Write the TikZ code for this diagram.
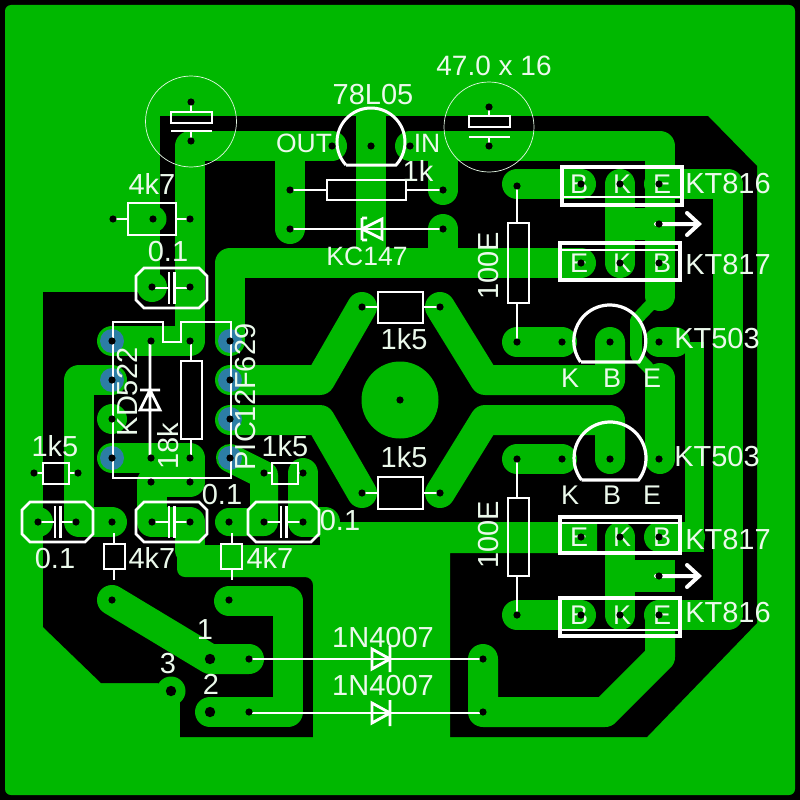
\documentclass[tikz,border=0pt]{standalone}
\usepackage{fontspec}
\setmainfont{Liberation Sans}
\definecolor{pcb}{RGB}{0,184,0}
\definecolor{padblue}{RGB}{44,125,165}
\tikzset{
  trk/.style={draw=pcb,line width=30pt,line cap=round,line join=round},
  silk/.style={draw=white,line width=2.8pt,line join=miter},
  thick silk/.style={draw=white,line width=3.6pt},
  ring/.style={draw=white!90!pcb,line width=0.7pt},
  lbl/.style={text=white!92!pcb,inner sep=0pt,font=\fontsize{29}{29}\selectfont},
  sml/.style={lbl,font=\fontsize{27}{27}\selectfont},
  mid/.style={lbl,font=\fontsize{26.5}{26.5}\selectfont},
  hole/.style={fill=black}
}
\begin{document}
\begin{tikzpicture}[x=1pt,y=-1pt]
\useasboundingbox (0,0) rectangle (800,800);
\fill[black] (0,0) rectangle (800,800);
\fill[pcb,rounded corners=6pt] (5,5) rectangle (795,795);
% copper clearance (black)
\fill[black] (160,116) -- (708,116) -- (757,166) -- (757,623) -- (647,737) -- (180,737) -- (180,700) -- (158,683) -- (101,683) -- (43,627) -- (43,292) -- (160,292) -- cycle;
% plane
\fill[pcb,rounded corners=8pt] (177,545) -- (177,577) -- (200,577) -- (313,577) [sharp corners] -- (313,745) -- (450,745) -- (450,553) -- (597,553) -- (597,522) -- (320,522) -- (320,545) -- cycle;
% lobes on the outer copper
\fill[pcb] (153,219) circle[radius=13.5pt] (152,287) circle[radius=15pt] (38,522) circle[radius=15pt] (171,691) circle[radius=14.5pt];
\fill[pcb] (400,400) circle[radius=38.5pt];
% tracks
\draw[trk] (191,146) -- (332,146);
\draw[trk] (410,146) -- (660,146) -- (660,296);
\draw[trk] (190,146) -- (190,341) -- (112,341);
\draw[trk] (371,108) -- (371,263);
\draw[trk] (290,146) -- (290,229);
\draw[trk] (443,146) -- (443,190);
\draw[trk] (443,229) -- (443,263);
\draw[trk] (230,341) -- (230,263) -- (581,263);
\draw[trk] (517,184) -- (581,184);
\draw[trk] (620,184) -- (620,263);
\fill[pcb] (605,208) rectangle (675,240);
\draw[trk] (659,184) -- (728,184) -- (728,615) -- (659,615);
\draw[trk,line width=12pt,line cap=butt] (655,300) -- (636,320) -- (636,355) -- (660,380);
\draw[trk] (660,378) -- (660,459);
\draw[trk] (517,342) -- (562,342);
\draw[trk] (517,459) -- (562,459);
\draw[trk] (659,342) -- (675,342);
\draw[trk] (659,537) -- (690,537);
\draw[trk,line width=19pt,line cap=butt] (694,342) -- (694,552);
\draw[trk] (610,342) -- (610,380) -- (485,380) -- (440,307);
\draw[trk] (610,459) -- (610,420) -- (485,420) -- (440,493);
\draw[trk] (230,380) -- (320,380) -- (362,307);
\draw[trk] (230,420) -- (320,420) -- (362,493);
\draw[trk] (112,380) -- (79,380) -- (79,522) -- (112,522);
\fill[pcb] (112,419) circle[radius=15pt];
\draw[trk] (112,458) -- (190,458) -- (190,482) -- (152,482) -- (152,522) -- (190,522) -- (190,550);
\draw[trk,line width=28pt] (230,458) -- (264,475) -- (264,522) -- (229,522);
\draw[trk] (303,473) -- (303,522) -- (325,522);
\draw[trk] (620,537) -- (620,615);
\fill[pcb] (605,560) rectangle (675,592);
\draw[trk] (483,659) -- (483,712) -- (605,712) -- (660,657) -- (660,615);
\draw[trk] (517,615) -- (581,615);
\draw[trk] (112,600) -- (210,659) -- (249,659);
\draw[trk] (229,601) -- (288,601) -- (288,712) -- (210,712);
% blue pads
\foreach \p in {(112,341),(112,380),(112,458),(230,341),(230,380),(230,419),(230,458)}
  \fill[padblue] \p circle[radius=12pt];
% silkscreen: electrolytic capacitors
\draw[ring] (191,121.5) circle[radius=45.5pt];
\draw[ring] (489,127) circle[radius=45pt];
\draw[silk] (171,112) rectangle (212,123);
\draw[silk] (171,131) -- (212,131) (191,103) -- (191,112) (191,131) -- (191,141);
\draw[silk] (469,116) rectangle (510,127);
\draw[silk] (469,137) -- (510,137) (489,107) -- (489,116) (489,137) -- (489,146);
% regulator and transistors
\draw[silk,line width=3pt] (346,165) -- (396,165) arc[start angle=-42.6,end angle=222.6,radius=34pt];
\draw[silk,line width=3.2pt] (581,362) -- (639,362) arc[start angle=-35.7,end angle=215.7,radius=36pt];
\draw[silk,line width=3.2pt] (581.5,480) -- (638.5,480) arc[start angle=-37.7,end angle=217.7,radius=36pt];
% resistors
\draw[silk] (327,180) rectangle (406,200) (290,190) -- (327,190) (406,190) -- (443,190);
\draw[silk] (128,203) rectangle (176,235) (113,219) -- (128,219) (176,219) -- (190,219);
\draw[silk] (378,292) rectangle (423,323) (362,307) -- (378,307) (423,307) -- (440,307);
\draw[silk] (378,477) rectangle (423,509) (362,493) -- (378,493) (423,493) -- (440,493);
\draw[silk] (508,223) rectangle (529,303) (517,186) -- (517,223) (517,303) -- (517,342);
\draw[silk] (508,498) rectangle (529,576) (517,459) -- (517,498) (517,576) -- (517,615);
\draw[silk] (181,361) rectangle (202,439) (191,341) -- (191,361) (191,439) -- (191,458);
\draw[silk] (43,463) rectangle (69,484) (34,473) -- (43,473) (69,473) -- (78,473);
\draw[silk] (272,463) rectangle (298,484) (264,473) -- (272,473) (298,473) -- (303,473);
\draw[silk] (104,544) rectangle (125,569) (114,533) -- (114,544) (114,569) -- (114,580);
\draw[silk] (221,544) rectangle (242,569) (232,533) -- (232,544) (232,569) -- (232,580);
% zener
\draw[silk] (290,229) -- (443,229);
\draw[silk,line join=miter] (382,219) -- (382,239) -- (362,229) -- cycle (362,218) -- (362,240) (362,218) -- (367,218) (362,240) -- (367,240);
% film capacitors
\foreach \cx/\cy/\la/\lb in {171.5/288/152/190, 57.5/522/38/76, 171.5/522/152/190, 283.5/522/264/303}{
  \draw[silk] (\cx-35.5,\cy-12) -- (\cx-27.5,\cy-20) -- (\cx+27.5,\cy-20) -- (\cx+35.5,\cy-12) -- (\cx+35.5,\cy+12) -- (\cx+27.5,\cy+20) -- (\cx-27.5,\cy+20) -- (\cx-35.5,\cy+12) -- cycle;
  \draw[silk] (\cx-2.5,\cy-16) -- (\cx-2.5,\cy+16) (\cx+3,\cy-16) -- (\cx+3,\cy+16);
  \draw[silk] (\la,\cy) -- (\cx-2.5,\cy) (\cx+3,\cy) -- (\lb,\cy);
}
% IC outline and signal diode
\draw[silk] (113,322) -- (163,322) -- (163,342) -- (181,342) -- (181,322) -- (231,322) -- (231,478) -- (113,478) -- cycle;
\draw[silk] (150,341) -- (150,458) (140,390) -- (160,390) (150,390) -- (140,410) -- (160,410) -- cycle;
% power transistors
\draw[thick silk] (562,167) rectangle (682,205);
\draw[silk,line width=2pt] (562,197) -- (682,197);
\draw[thick silk] (560,243) rectangle (680,280);
\draw[silk,line width=2pt] (560,250) -- (680,250);
\draw[thick silk] (560,517) rectangle (680,553);
\draw[silk,line width=2pt] (560,523) -- (680,523);
\draw[thick silk] (560,598) rectangle (680,636);
\draw[silk,line width=2pt] (560,630) -- (680,630);
% heat-sink arrows
\foreach \y in {224,576}{
  \draw[draw=white,line width=4pt,line cap=round] (656,\y) -- (698,\y) (687,\y-11) -- (699,\y) -- (687,\y+11);
}
% rectifier diodes
\foreach \y in {659,713}{
  \draw[silk] (252,\y) -- (483,\y);
  \draw[silk] (372,\y-10) -- (372,\y+10) -- (390,\y) -- cycle (390,\y-13) -- (390,\y+13);
}
% labels
\node[lbl,font=\fontsize{28}{28}\selectfont] (capval) at (494,66) {47.0 x 16};
\node[lbl] (reg) at (373,95) {78L05};
\node[mid] (out) at (304,143) {OUT};
\node[mid] (in) at (427,143) {IN};
\node[lbl] (oneK) at (418,171) {1k};
\node[mid] (kc) at (367,256) {KC147};
\node[lbl] (rA) at (152,184) {4k7};
\node[lbl] (cA) at (168,252) {0.1};
\node[lbl] (rB) at (404,339) {1k5};
\node[lbl] (rC) at (404,457) {1k5};
\node[lbl] (rD) at (55,446) {1k5};
\node[lbl] (rE) at (285,446) {1k5};
\node[lbl] (cB) at (222,495) {0.1};
\node[lbl] (cC) at (55,559) {0.1};
\node[lbl] (cD) at (340,521) {0.1};
\node[lbl] (rF) at (152,558) {4k7};
\node[lbl] (rG) at (270,558) {4k7};
\node[lbl] (hdrA) at (205,630) {1};
\node[lbl] (hdrB) at (211,684) {2};
\node[lbl] (hdrC) at (168,664) {3};
\node[lbl] (dA) at (383,638) {1N4007};
\node[lbl] (dB) at (383,686) {1N4007};
\node[lbl] (tA) at (717,339) {KT503};
\node[lbl] (tB) at (717,457) {KT503};
\node[lbl] (pA) at (728,184) {KT816};
\node[lbl] (pB) at (728,265) {KT817};
\node[lbl] (pC) at (728,540) {KT817};
\node[lbl] (pD) at (728,613) {KT816};
\node[lbl,rotate=90] (rH) at (489,266) {100E};
\node[lbl,rotate=90] (rI) at (489,535) {100E};
\node[lbl,rotate=90] (ic) at (246,397) {PIC12F629};
\node[lbl,rotate=90] (dC) at (128,392) {KD522};
\node[lbl,rotate=90] (rJ) at (168,446) {18k};
\foreach \n/\x/\y/\t in {a/570/378/K,b/612/378/B,c/652/378/E,d/570/495/K,e/612/495/B,f/652/495/E,
  g/579/184/B,h/622/184/K,i/662/184/E,j/579/263/E,k/622/263/K,l/662/263/B,
  m/579/537/E,n/622/537/K,o/662/537/B,q/579/615/B,r/622/615/K,s/662/615/E}
  \node[sml] (pin\n) at (\x,\y) {\t};
% drill holes
\foreach \p in {(191,102),(191,141),(489,107),(489,146),(332,146),(371,146),(410,146),(290,190),(443,190),(290,229),(443,229),
 (153,219),(113,219),(190,219),(152,287),(190,287),(517,186),(517,342),(562,342),(610,342),(659,342),
 (581,184),(620,184),(659,184),(659,224),(581,263),(620,263),(659,263),(440,307),(362,307),(400,400),(440,493),(362,493),
 (112,341),(112,380),(112,419),(112,458),(230,341),(230,380),(230,419),(230,458),(151,341),(190,341),(151,458),(190,458),(151,482),(190,482),
 (34,473),(78,473),(264,473),(303,473),(38,522),(76,522),(152,522),(190,522),(264,522),(303,522),(112,522),(229,522),(112,600),(229,600),
 (249,659),(249,712),(483,659),(483,712),(517,459),(562,459),(610,459),(659,459),(581,537),(620,537),(659,537),(659,576),(581,615),(620,615),(659,615),(517,615)}
  \fill[hole] \p circle[radius=3.6pt];
\foreach \p in {(210,659),(210,712),(171,691)}
  \fill[hole] \p circle[radius=5.2pt];
\end{tikzpicture}
\end{document}
